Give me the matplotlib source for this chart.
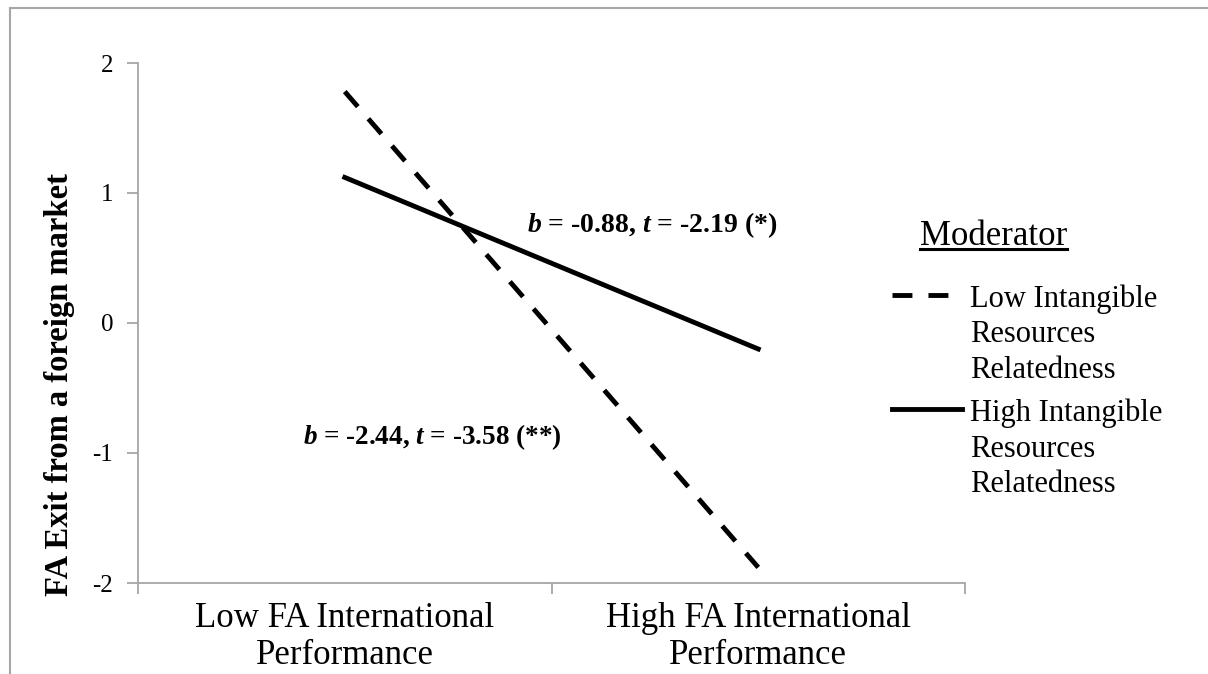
import matplotlib.pyplot as plt
from matplotlib.lines import Line2D

plt.rcParams['font.family'] = ['Liberation Serif', 'DejaVu Serif']
plt.rcParams['mathtext.fontset'] = 'custom'
plt.rcParams['mathtext.rm'] = 'Liberation Serif'
plt.rcParams['mathtext.it'] = 'Liberation Serif:italic'
plt.rcParams['mathtext.bf'] = 'Liberation Serif:bold'
plt.rcParams['mathtext.bfit'] = 'Liberation Serif:bold:italic'

# data
categories = ['Low FA International\nPerformance', 'High FA International\nPerformance']
low_irr = [1.78, -1.88]    # low intangible resources relatedness (dashed)
high_irr = [1.12, -0.20]   # high intangible resources relatedness (solid)
series_labels = ['Low Intangible\nResources\nRelatedness', 'High Intangible\nResources\nRelatedness']
yticks = [-2, -1, 0, 1, 2]

W, H = 1208, 674
fig = plt.figure(figsize=(W / 100, H / 100), dpi=100)
ax = fig.add_axes([138 / W, 1 - 583 / H, (965 - 138) / W, (583 - 63) / H])

x = range(len(categories))
ax.plot(x, low_irr, color='black', lw=3.5, ls=(0, (4.1, 3.3)), label=series_labels[0])
ax.plot(x, high_irr, color='black', lw=3.5, label=series_labels[1])

ax.set_xlim(-0.5, 1.5)
ax.set_ylim(-2, 2)
ax.set_yticks(yticks)
ax.set_yticklabels([str(v) for v in yticks], fontsize=18)
ax.set_xticks(list(x))
ax.set_xticklabels(categories, fontsize=25, linespacing=1.18)
ax.set_xticks([-0.5, 0.5, 1.5], minor=True)
ax.tick_params(axis='x', which='major', length=0, pad=13.5)
ax.tick_params(axis='x', which='minor', length=8, color='#a6a6a6', width=1.3, direction='out')
ax.tick_params(axis='y', length=8, color='#a6a6a6', width=1.3, pad=10)

for s in ['top', 'right']:
    ax.spines[s].set_visible(False)
for s in ['left', 'bottom']:
    ax.spines[s].set_color('#a6a6a6')
    ax.spines[s].set_linewidth(1.3)

fig.text(60 / W, 1 - 385 / H, 'FA Exit from a foreign market', rotation=90,
         ha='center', va='center', fontsize=23.5, fontweight='bold')

ax.text(0.44, 0.75, r'$\mathbfit{b}$ = -0.88, $\mathbfit{t}$ = -2.19 (*)',
        fontsize=20, fontweight='bold', va='center', ha='left')
ax.text(-0.10, -0.88, r'$\mathbfit{b}$ = -2.44, $\mathbfit{t}$ = -3.58 (**)',
        fontsize=19.5, fontweight='bold', va='center', ha='left')

mod = fig.text(920 / W, 1 - 245 / H, 'Moderator', fontsize=25, va='baseline', ha='left')
leg = ax.legend(loc='upper left', bbox_to_anchor=(892 / W, 1 - 284 / H),
                bbox_transform=fig.transFigure, frameon=False, fontsize=22,
                handlelength=2.29, handletextpad=0.26, labelspacing=0.43,
                borderpad=0, borderaxespad=0)
for t in leg.get_texts():
    t.set_linespacing(1.31)

fig.canvas.draw()

# underline under "Moderator"
bb = mod.get_window_extent()
fig.add_artist(Line2D([bb.x0 / W, bb.x1 / W], [1 - 249 / H, 1 - 249 / H],
                      transform=fig.transFigure, color='black', lw=2.2))

# move legend samples up to the first line of each label
for ln, t in zip(leg.get_lines(), leg.get_texts()):
    tb = t.get_window_extent()
    cur = ln.get_transform().transform((ln.get_xdata()[0], ln.get_ydata()[0]))[1]
    want = tb.y1 - 11
    ln.set_ydata([y + (want - cur) * 72 / 100 for y in ln.get_ydata()])

# outer border (only top and left visible in the crop)
fig.add_artist(Line2D([10 / W, 1.0], [1 - 8 / H, 1 - 8 / H], transform=fig.transFigure,
                      color='#a6a6a6', lw=1.5))
fig.add_artist(Line2D([10 / W, 10 / W], [0, 1 - 8 / H], transform=fig.transFigure,
                      color='#a6a6a6', lw=1.5))

fig.savefig('out.png', dpi=100)
